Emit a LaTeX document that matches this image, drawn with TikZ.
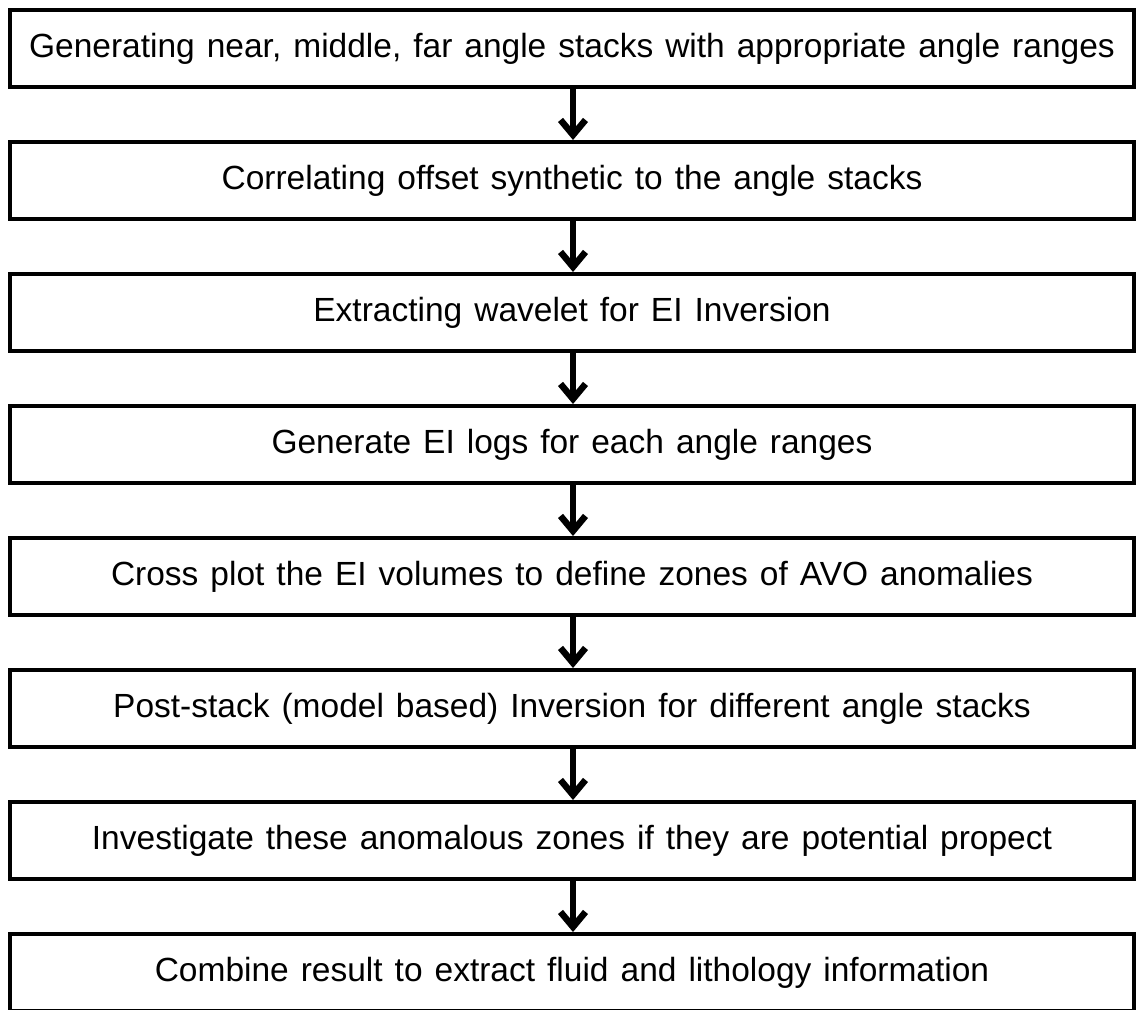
\documentclass[tikz,border=0pt]{standalone}
\usepackage{fontspec}
\setmainfont{Liberation Sans}
\usetikzlibrary{arrows.meta}
\newcommand{\flowboxfont}{\fontsize{33.5}{40}\selectfont\spaceskip=12pt plus 2pt minus 1pt\relax}
\tikzset{
  flowbox/.style={draw=black, line width=4pt, minimum width=1124pt, minimum height=77pt, inner sep=0pt, font=\flowboxfont, fill=white},
  flowarrow/.style={line width=6.5pt, -{Straight Barb[length=15pt,width=25pt]}}
}
\begin{document}
\begin{tikzpicture}[x=1pt,y=-1pt]
\clip (0,0) rectangle (1136,1010);
\node[flowbox] (b1) at (572,48.5) {Generating near, middle, far angle stacks with appropriate angle ranges};
\node[flowbox] (b2) at (572,180.5) {Correlating offset synthetic to the angle stacks};
\node[flowbox] (b3) at (572,312.5) {Extracting wavelet for EI Inversion};
\node[flowbox] (b4) at (572,444.5) {Generate EI logs for each angle ranges};
\node[flowbox] (b5) at (572,576.5) {Cross plot the EI volumes to define zones of AVO anomalies};
\node[flowbox] (b6) at (572,708.5) {Post-stack (model based) Inversion for different angle stacks};
\node[flowbox] (b7) at (572,840.5) {Investigate these anomalous zones if they are potential propect};
\node[flowbox] (b8) at (572,972.5) {Combine result to extract fluid and lithology information};
\foreach \a/\b in {b1/b2,b2/b3,b3/b4,b4/b5,b5/b6,b6/b7,b7/b8}
  \draw[flowarrow] ([xshift=1pt]\a.south) -- ([xshift=1pt]\b.north);
\end{tikzpicture}
\end{document}
